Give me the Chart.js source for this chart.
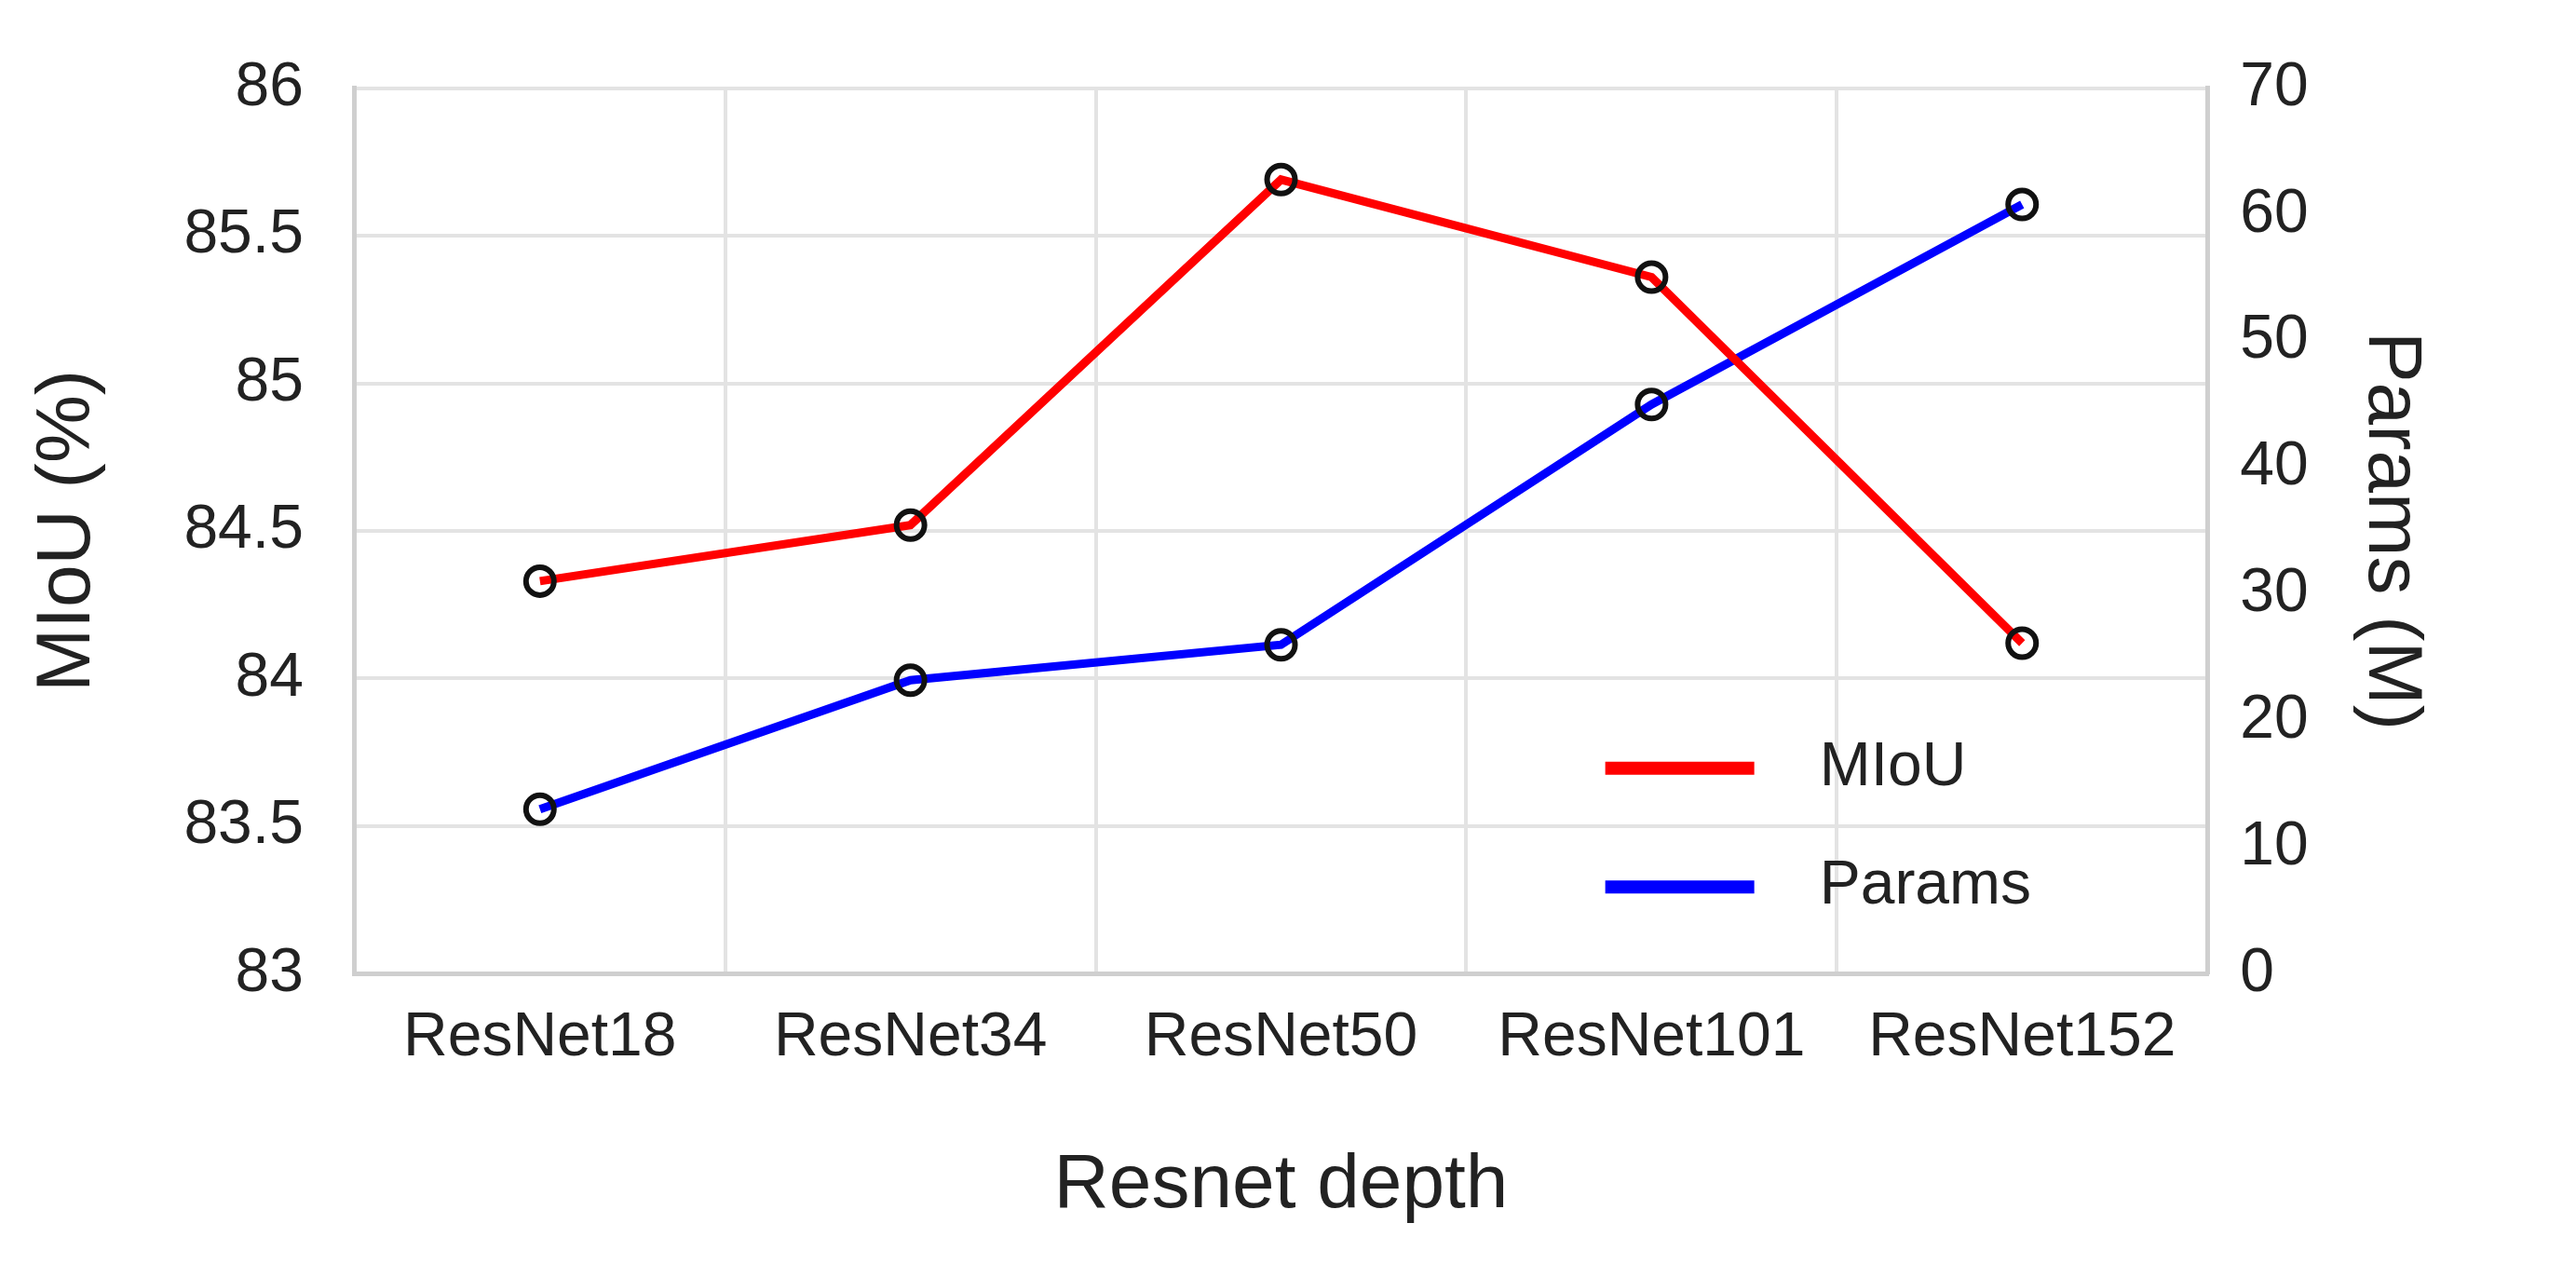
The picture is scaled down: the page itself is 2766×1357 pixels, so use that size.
<!DOCTYPE html>
<html>
<head>
<meta charset="utf-8">
<script src="https://cdn.jsdelivr.net/npm/chart.js@4.4.0/dist/chart.umd.min.js"></script>
<style>
  html, body { margin: 0; padding: 0; background: #fff; }
  #wrap { width: 2766px; height: 1357px; }
</style>
</head>
<body>
<div id="wrap"><canvas id="chart"></canvas></div>
<script>
'use strict';

const categories = ['ResNet18', 'ResNet34', 'ResNet50', 'ResNet101', 'ResNet152'];
const miouValues = [84.33, 84.52, 85.69, 85.36, 84.12];
const paramValues = [13.0, 23.2, 26.0, 45.0, 60.8];
const miouTicks = [83, 83.5, 84, 84.5, 85, 85.5, 86];
const paramTicks = [0, 10, 20, 30, 40, 50, 60, 70];

const FONT = '"Liberation Sans", Arial, sans-serif';

// legend drawn inside the plot, lower right
const insideLegend = {
  id: 'insideLegend',
  afterDraw(chart) {
    let ctx = chart.ctx;
    let area = chart.chartArea;
    let w = area.right - area.left;
    let h = area.bottom - area.top;
    let rows = [0.768, 0.902];
    ctx.save();
    ctx.font = '66px ' + FONT;
    ctx.textBaseline = 'middle';
    chart.data.datasets.forEach((ds, i) => {
      let y = area.top + h * rows[i];
      let x0 = area.left + w * 0.675;
      ctx.strokeStyle = ds.borderColor;
      ctx.lineWidth = 14;
      ctx.beginPath();
      ctx.moveTo(x0, y);
      ctx.lineTo(x0 + 160, y);
      ctx.stroke();
      ctx.fillStyle = '#222';
      ctx.fillText(ds.label, x0 + 230, y);
    });
    ctx.restore();
  }
};

let data = {
  labels: categories,
  datasets: [{
    label: 'MIoU',
    data: miouValues,
    yAxisID: 'y',
    borderColor: '#ff0000',
    borderWidth: 9,
    pointRadius: 15,
    pointBorderWidth: 6,
    pointBorderColor: '#111',
    pointBackgroundColor: 'rgba(0,0,0,0)',
    tension: 0
  }, {
    label: 'Params',
    data: paramValues,
    yAxisID: 'y1',
    borderColor: '#0000ff',
    borderWidth: 9,
    pointRadius: 15,
    pointBorderWidth: 6,
    pointBorderColor: '#111',
    pointBackgroundColor: 'rgba(0,0,0,0)',
    tension: 0
  }]
};

let tickFont = { family: FONT, size: 66 };
let titleFont = { family: FONT, size: 82 };

let config = {
  type: 'line',
  data: data,
  plugins: [insideLegend],
  options: {
    responsive: true,
    maintainAspectRatio: false,
    animation: false,
    layout: { padding: { top: 40, right: 110, bottom: 30, left: 20 } },
    plugins: { legend: { display: false }, tooltip: { enabled: false } },
    scales: {
      x: {
        offset: true,
        grid: { offset: true, color: '#e3e3e3', lineWidth: 4, drawTicks: false },
        border: { color: '#cfcfcf', width: 5 },
        ticks: { font: tickFont, color: '#222', padding: 30, maxRotation: 0 },
        title: { display: true, text: 'Resnet depth', font: titleFont, color: '#222', padding: { top: 40 } }
      },
      y: {
        position: 'left',
        min: 83,
        max: 86,
        afterBuildTicks: axis => { axis.ticks = miouTicks.map(v => ({ value: v })); },
        grid: { color: '#e3e3e3', lineWidth: 4, drawTicks: false },
        border: { color: '#cfcfcf', width: 5 },
        ticks: { font: tickFont, color: '#222', padding: 55, callback: v => String(v) },
        title: { display: true, text: 'MIoU (%)', font: titleFont, color: '#222', padding: { bottom: 20 } }
      },
      y1: {
        position: 'right',
        min: 0,
        max: 70,
        afterBuildTicks: axis => { axis.ticks = paramTicks.map(v => ({ value: v })); },
        grid: { drawOnChartArea: false, drawTicks: false },
        border: { color: '#cfcfcf', width: 5 },
        ticks: { font: tickFont, color: '#222', padding: 35 },
        title: { display: true, text: 'Params (M)', font: titleFont, color: '#222', padding: { top: 40 } }
      }
    }
  }
};

let canvasElem = document.getElementById('chart');
new Chart(canvasElem, config);
</script>
</body>
</html>
